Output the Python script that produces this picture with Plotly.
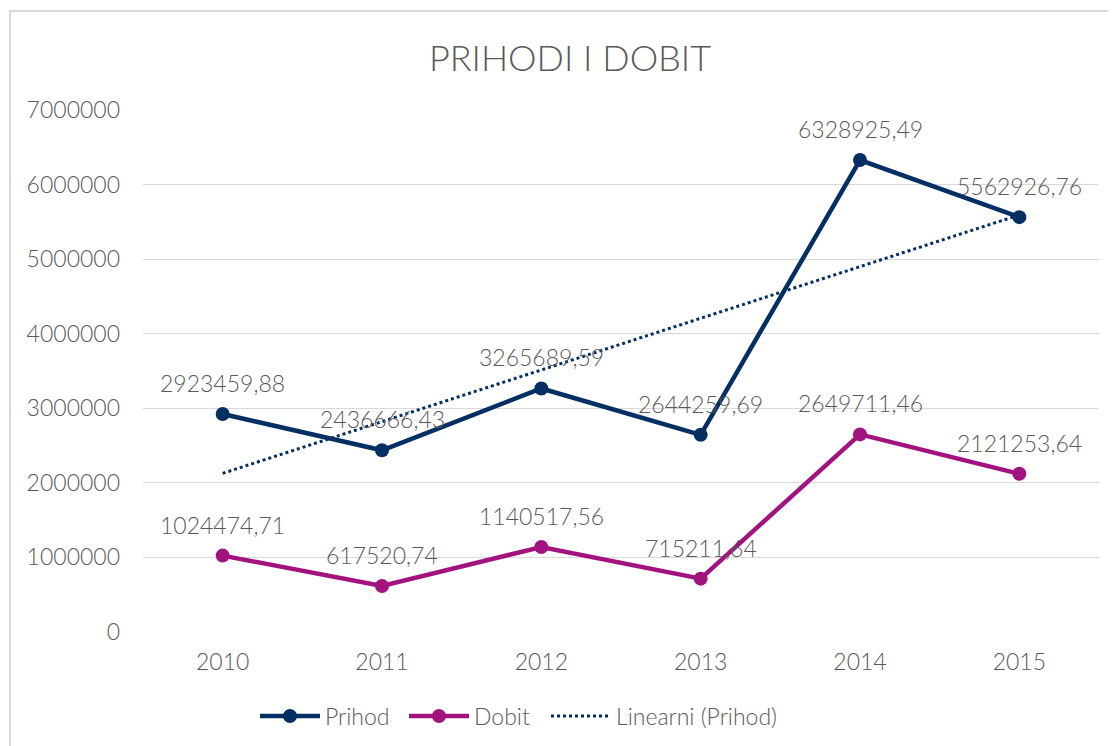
import numpy as np
import plotly.graph_objects as go

years = ["2010", "2011", "2012", "2013", "2014", "2015"]
prihod = [2923459.88, 2436666.43, 3265689.59, 2644259.69, 6328925.49, 5562926.76]
dobit = [1024474.71, 617520.74, 1140517.56, 715211.64, 2649711.46, 2121253.64]
prihod_labels = ["2923459,88", "2436666,43", "3265689,59", "2644259,69", "6328925,49", "5562926,76"]
dobit_labels = ["1024474,71", "617520,74", "1140517,56", "715211,64", "2649711,46", "2121253,64"]
y_ticks = [0, 1000000, 2000000, 3000000, 4000000, 5000000, 6000000, 7000000]

NAVY = "#042F63"
MAGENTA = "#A2137F"
GREY = "#595959"
GRID = "#D9D9D9"
FONT = "Lato"
WEIGHT = 300

# linear trend of Prihod (least squares over the category index)
idx = np.arange(1, len(years) + 1)
slope, intercept = np.polyfit(idx, prihod, 1)
trend = slope * idx + intercept

W, H = 1116, 746
OFF = 8  # page offset of the figure in the screenshot
L, T = 143 - OFF, 110 - OFF
R, B = W - (1099 - OFF), H - (632 - OFF)

fig = go.Figure()
fig.add_trace(go.Scatter(x=years, y=prihod, name="Prihod", mode="lines+markers",
                         line=dict(color=NAVY, width=4.5), marker=dict(size=14, color=NAVY),
                         legend="legend"))
fig.add_trace(go.Scatter(x=years, y=dobit, name="Dobit", mode="lines+markers",
                         line=dict(color=MAGENTA, width=4.5), marker=dict(size=14, color=MAGENTA),
                         legend="legend2"))
fig.add_trace(go.Scatter(x=years, y=trend, name="Linearni (Prihod)", mode="lines",
                         line=dict(color=NAVY, width=3, dash="dot"), legend="legend3"))

for ys, labs in ((prihod, prihod_labels), (dobit, dobit_labels)):
    for i, (yv, t) in enumerate(zip(ys, labs)):
        fig.add_annotation(x=i, y=yv, text=t, showarrow=False, yshift=31,
                           font=dict(family=FONT, size=23, color=GREY, weight=WEIGHT))

pw = W - L - R
ph = H - T - B
def px_x(p):
    return (p - OFF - L) / pw
def px_y(p):
    return (H - B - (p - OFF)) / ph

fig.add_shape(type="rect", xref="paper", yref="paper",
              x0=px_x(10), x1=px_x(W + 30), y0=px_y(H + 30), y1=px_y(11),
              line=dict(color=GRID, width=2), fillcolor="rgba(0,0,0,0)", layer="below")

def legend_at(xpx):
    return dict(orientation="h", x=px_x(xpx), xanchor="left", y=px_y(716), yanchor="middle",
                font=dict(family=FONT, size=23, color=GREY, weight=WEIGHT),
                itemwidth=60, bgcolor="rgba(0,0,0,0)")

fig.update_layout(
    width=W, height=H,
    margin=dict(l=L, r=R, t=T, b=B),
    paper_bgcolor="white", plot_bgcolor="white",
    font=dict(family=FONT, color=GREY, size=23, weight=WEIGHT),
    title=dict(text="PRIHODI I DOBIT", x=(570 - OFF) / W, xref="container", xanchor="center",
               y=1 - (58 - OFF) / H, yref="container", yanchor="middle",
               font=dict(family=FONT, size=36, color=GREY, weight=WEIGHT)),
    showlegend=True,
    legend=legend_at(255),
    legend2=legend_at(404),
    legend3=legend_at(546),
    xaxis=dict(type="category", range=[-0.5, len(years) - 0.5], showgrid=False, showline=False,
               zeroline=False, ticks="", tickfont=dict(family=FONT, size=23, color=GREY, weight=WEIGHT),
               ticklabelstandoff=14),
    yaxis=dict(range=[0, 7000000], tickvals=y_ticks, ticktext=[str(v) for v in y_ticks],
               showgrid=True, gridcolor=GRID, gridwidth=1.3, zeroline=False, showline=False,
               ticks="", tickfont=dict(family=FONT, size=23, color=GREY, weight=WEIGHT),
               ticklabelstandoff=22),
)

fig.write_html("out.html")
